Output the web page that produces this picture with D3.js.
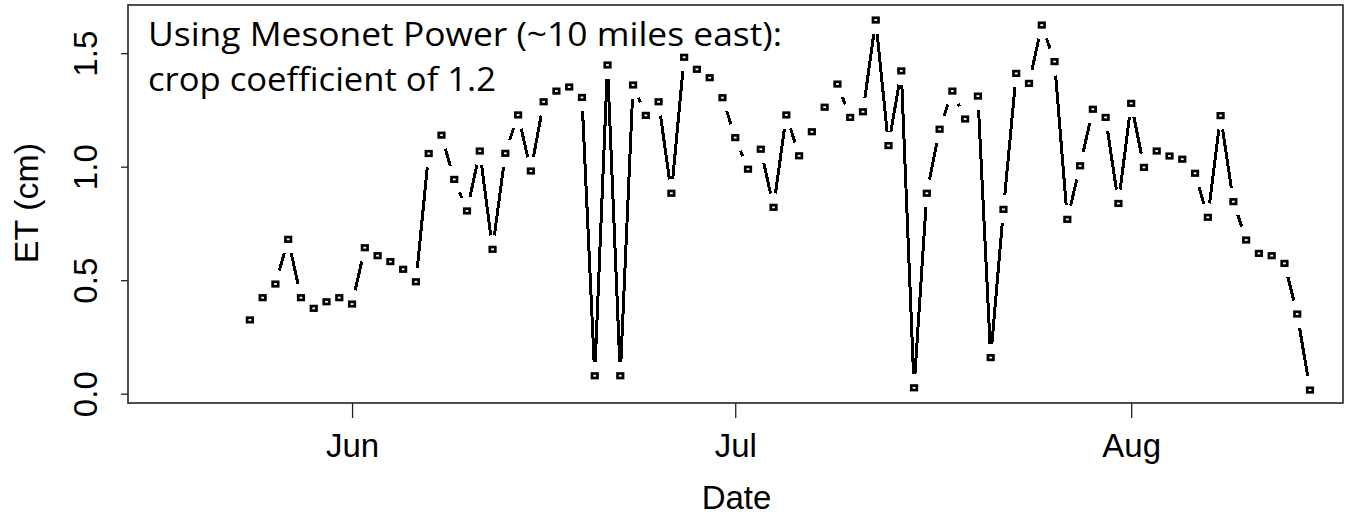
<!DOCTYPE html>
<html>
<head>
<meta charset="utf-8">
<script src="https://cdn.jsdelivr.net/npm/d3@7"></script>
<style>
  body { margin: 0; background: #fff; }
  .rtext { font-family: "Liberation Sans", Arial, sans-serif; fill: #000; }
  .note { font-family: "Open Sans", sans-serif; fill: #000; }
</style>
</head>
<body>
<div id="chart"></div>
<script>
// daily ET from May 24 to Aug 15
const firstDay = "2024-05-24",
      lastDay = "2024-08-15";
const et = [
  0.325, 0.423, 0.483, 0.680, 0.423, 0.376, 0.405, 0.423, 0.395, 0.643,
  0.608, 0.582, 0.548, 0.493, 1.058, 1.139, 0.944, 0.805, 1.069, 0.636,
  1.059, 1.228, 0.981, 1.286, 1.333, 1.351, 1.305, 0.079, 1.448, 0.079,
  1.360, 1.226, 1.286, 0.883, 1.482, 1.429, 1.392, 1.304, 1.128, 0.989,
  1.077, 0.821, 1.228, 1.048, 1.154, 1.262, 1.364, 1.217, 1.242, 1.646,
  1.093, 1.422, 0.026, 0.883, 1.165, 1.333, 1.210, 1.311, 0.159, 0.812,
  1.411, 1.367, 1.624, 1.463, 0.768, 1.004, 1.253, 1.217, 0.838, 1.279,
  0.997, 1.069, 1.047, 1.033, 0.971, 0.777, 1.225, 0.846, 0.677, 0.618,
  0.608, 0.574, 0.351, 0.016
];
const yTicks = [0, 0.5, 1.0, 1.5];
const monthTicks = ["2024-06-01", "2024-07-01", "2024-08-01"];
const note = ["Using Mesonet Power (~10 miles east):", "crop coefficient of 1.2"];

let width = 1347,
    height = 519,
    box = ({ left: 128, right: 1343, top: 5, bottom: 403 });

const parse = d3.timeParse("%Y-%m-%d");
const days = d3.timeDay.range(parse(firstDay), d3.timeDay.offset(parse(lastDay), 1));
const data = days.map((d, i) => ({ date: d, v: et[i] }));

const svg = d3.select("#chart")
    .append("svg")
    .attr("width", width)
    .attr("height", height);

let x = d3.scaleTime()
    .domain([d3.timeHour.offset(parse(firstDay), -229), d3.timeHour.offset(parse(lastDay), 62)])
    .range([box.left, box.right]);

let y = d3.scaleLinear()
    .domain([-0.041, 1.7123])
    .range([box.bottom, box.top]);

// x axis
svg.append("g")
    .attr("transform", `translate(0,${box.bottom})`)
    .call(d3.axisBottom(x)
        .tickValues(monthTicks.map(parse))
        .tickFormat(d3.timeFormat("%b"))
        .tickSize(15).tickPadding(16))
    .call(g => g.select(".domain").remove())
    .call(g => g.selectAll("line").attr("stroke", "#222").attr("stroke-width", 1.3))
    .call(g => g.selectAll("text").attr("class", "rtext").attr("font-size", 33).attr("fill", "#000"));

// y axis, rotated labels like base R
const ya = svg.append("g")
    .attr("transform", `translate(${box.left},0)`)
    .call(d3.axisLeft(y).tickValues(yTicks).tickFormat(d3.format(".1f")).tickSize(7))
    .call(g => g.select(".domain").remove())
    .call(g => g.selectAll("line").attr("stroke", "#222").attr("stroke-width", 1.3));
ya.selectAll("text")
    .attr("class", "rtext")
    .attr("font-size", 33)
    .attr("fill", "#000")
    .attr("x", null).attr("dy", null)
    .attr("text-anchor", "middle")
    .attr("transform", "translate(-31,0) rotate(-90)");

// frame
svg.append("rect")
    .attr("x", box.left).attr("y", box.top)
    .attr("width", box.right - box.left).attr("height", box.bottom - box.top)
    .attr("fill", "none").attr("stroke", "#222").attr("stroke-width", 1.6);

// axis titles
svg.append("text").attr("class", "rtext")
    .attr("x", (box.left + box.right) / 2 + 1).attr("y", 509)
    .attr("text-anchor", "middle").attr("font-size", 33)
    .text("Date");
svg.append("text").attr("class", "rtext")
    .attr("transform", "translate(38,203) rotate(-90)")
    .attr("text-anchor", "middle").attr("font-size", 34)
    .text("ET (cm)");

// type = "b": segments with gaps around the points
const gap = 14;
const segs = d3.pairs(data).map(([a, b]) => {
    let x1 = x(a.date), y1 = y(a.v), x2 = x(b.date), y2 = y(b.v);
    let len = Math.hypot(x2 - x1, y2 - y1);
    if (len <= 2 * gap) return null;
    let ux = (x2 - x1) / len, uy = (y2 - y1) / len;
    return [x1 + ux * gap, y1 + uy * gap, x2 - ux * gap, y2 - uy * gap];
}).filter(s => s);

svg.append("g")
    .attr("stroke", "black")
    .attr("stroke-width", 3)
    .attr("shape-rendering", "crispEdges")
    .selectAll("line")
    .data(segs)
    .join("line")
    .attr("x1", d => d[0]).attr("y1", d => d[1])
    .attr("x2", d => d[2]).attr("y2", d => d[3]);

svg.append("g")     // open squares, pch = 0
    .attr("fill", "white")
    .attr("stroke", "black")
    .attr("stroke-width", 2.7)
    .selectAll("rect")
    .data(data)
    .join("rect")
    .attr("x", d => x(d.date) - 2.75)
    .attr("y", d => y(d.v) - 2.25)
    .attr("width", 5.5)
    .attr("height", 4.5);

// annotation
const noteWidth = [634, 348];
svg.append("g")
    .selectAll("text")
    .data(note)
    .join("text")
    .attr("class", "note")
    .attr("x", 148)
    .attr("y", (d, i) => 46 + i * 45)
    .attr("font-size", 33)
    .attr("textLength", (d, i) => noteWidth[i])
    .attr("lengthAdjust", "spacingAndGlyphs")
    .text(d => d);
</script>
</body>
</html>
